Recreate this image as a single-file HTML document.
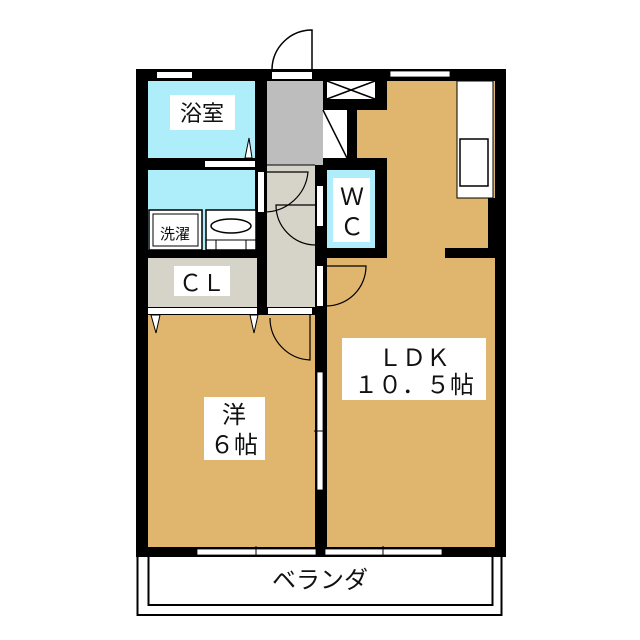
<!DOCTYPE html>
<html><head><meta charset="utf-8"><style>
html,body{margin:0;padding:0;background:#fff;}
svg{display:block;}
text{font-family:"Liberation Sans","Noto Sans CJK JP",sans-serif;fill:#111;}
</style></head><body>
<svg width="640" height="640" viewBox="0 0 640 640" xmlns="http://www.w3.org/2000/svg">
<rect x="137.5" y="555" width="364" height="60" fill="#fff" stroke="#000" stroke-width="2"/>
<rect x="148.5" y="555" width="344" height="50" fill="#fff" stroke="#000" stroke-width="2"/>
<rect x="136" y="69" width="370" height="488" fill="#000"/>
<rect x="148" y="81" width="107" height="77" fill="#aeeefa"/>
<rect x="148" y="170" width="107" height="80" fill="#aeeefa"/>
<rect x="149" y="210" width="53" height="40" fill="#fff" stroke="#000" stroke-width="1.5"/>
<rect x="153" y="214" width="45" height="32" fill="#fff" stroke="#000" stroke-width="1"/>
<rect x="206" y="210" width="50" height="40" fill="#fff" stroke="#000" stroke-width="1.5"/>
<ellipse cx="231" cy="226" rx="20" ry="7" fill="#fff" stroke="#000" stroke-width="1.5"/>
<line x1="206" y1="240" x2="256" y2="240" stroke="#000"/>
<line x1="216" y1="240" x2="216" y2="250" stroke="#000"/>
<line x1="246" y1="240" x2="246" y2="250" stroke="#000"/>
<rect x="148" y="258" width="109" height="49" fill="#d6d3c8"/>
<rect x="148" y="308" width="109" height="6" fill="#fff"/>
<rect x="267" y="81" width="56" height="84" fill="#bdbdbd"/>
<rect x="267" y="165" width="48" height="142" fill="#d6d3c8"/>
<line x1="267" y1="165" x2="315" y2="165" stroke="#000" stroke-width="1"/>
<rect x="268" y="308" width="44" height="6" fill="#fff"/>
<rect x="323" y="110" width="24" height="48" fill="#fff"/>
<line x1="323" y1="110" x2="347" y2="158" stroke="#000" stroke-width="1.5"/>
<rect x="327" y="81" width="48" height="18" fill="#fff"/>
<line x1="327" y1="81" x2="375" y2="99" stroke="#000" stroke-width="1.5"/>
<line x1="375" y1="81" x2="327" y2="99" stroke="#000" stroke-width="1.5"/>
<rect x="327" y="170" width="48" height="78" fill="#aeeefa"/>
<rect x="387" y="81" width="108" height="167" fill="#e0b56e"/>
<rect x="357" y="110" width="30" height="48" fill="#e0b56e"/>
<rect x="327" y="258" width="168" height="289" fill="#e0b56e"/>
<rect x="387" y="248" width="58" height="10" fill="#e0b56e"/>
<rect x="488" y="198" width="7" height="50" fill="#000"/>
<rect x="457" y="81" width="36" height="117" fill="#fff" stroke="#000" stroke-width="1"/>
<rect x="460" y="139" width="28" height="47" fill="#fff" stroke="#000" stroke-width="1.5"/>
<rect x="148" y="315" width="167" height="232" fill="#e0b56e"/>
<rect x="157" y="72" width="35" height="6" fill="#fff"/>
<rect x="390" y="71" width="60" height="6" fill="#fff" stroke="#000" stroke-width="0.8"/>
<rect x="197" y="549" width="119" height="6" fill="#fff" stroke="#000" stroke-width="0.8"/>
<rect x="325" y="549" width="117" height="6" fill="#fff" stroke="#000" stroke-width="0.8"/>
<line x1="256" y1="546" x2="256" y2="557" stroke="#000"/>
<line x1="383" y1="546" x2="383" y2="557" stroke="#000"/>
<rect x="205" y="161" width="50" height="6" fill="#fff"/>
<rect x="272" y="72" width="40" height="7" fill="#fff"/>
<path d="M312 69 L312 30 A40 40 0 0 0 272 69" fill="none" stroke="#000" stroke-width="1.5"/>
<rect x="258" y="172" width="6" height="40" fill="#fff"/>
<path d="M264 172 L308 172 A44 44 0 0 1 264 212" fill="none" stroke="#000" stroke-width="1.2"/>
<rect x="317" y="186" width="6" height="40" fill="#fff"/>
<path d="M315 205 L276 205 A40 40 0 0 0 315 245" fill="none" stroke="#000" stroke-width="1.2"/>
<rect x="317" y="266" width="6" height="40" fill="#fff"/>
<path d="M326 266 L366 266 A40 40 0 0 1 326 306" fill="none" stroke="#000" stroke-width="1.2"/>
<path d="M310 315 L310 360 A42 42 0 0 1 270 318" fill="none" stroke="#000" stroke-width="1.2"/>
<rect x="317" y="372" width="6" height="118" fill="#fff" stroke="#000" stroke-width="0.8"/>
<line x1="314" y1="431" x2="326" y2="431" stroke="#000"/>
<path d="M151 315 L156 333 L160 315 Z" fill="#fff" stroke="#000"/>
<path d="M250 315 L254 333 L258 315 Z" fill="#fff" stroke="#000"/>
<path d="M245 158 L249 138 L252 158 Z" fill="#fff" stroke="#000"/>
<rect x="170" y="95" width="65" height="35" fill="#fff"/>
<text x="202" y="121" font-size="22" text-anchor="middle">浴室</text>
<text x="175" y="239" font-size="15" text-anchor="middle">洗濯</text>
<rect x="333" y="178" width="37" height="64" fill="#fff"/>
<text x="352" y="205" font-size="24" text-anchor="middle">Ｗ</text>
<text x="352" y="235" font-size="24" text-anchor="middle">Ｃ</text>
<rect x="174" y="266" width="56" height="30" fill="#fff"/>
<text x="202" y="291" font-size="23" text-anchor="middle">ＣＬ</text>
<rect x="204" y="397" width="61" height="63" fill="#fff"/>
<text x="234" y="423" font-size="24" text-anchor="middle">洋</text>
<text x="234" y="453" font-size="24" text-anchor="middle">６帖</text>
<rect x="342" y="338" width="144" height="62" fill="#fff"/>
<text x="414" y="366" font-size="24" text-anchor="middle">ＬＤＫ</text>
<text x="414" y="393" font-size="24" text-anchor="middle">１０．５帖</text>
<text x="320" y="588" font-size="24" text-anchor="middle">ベランダ</text>
</svg>
</body></html>
